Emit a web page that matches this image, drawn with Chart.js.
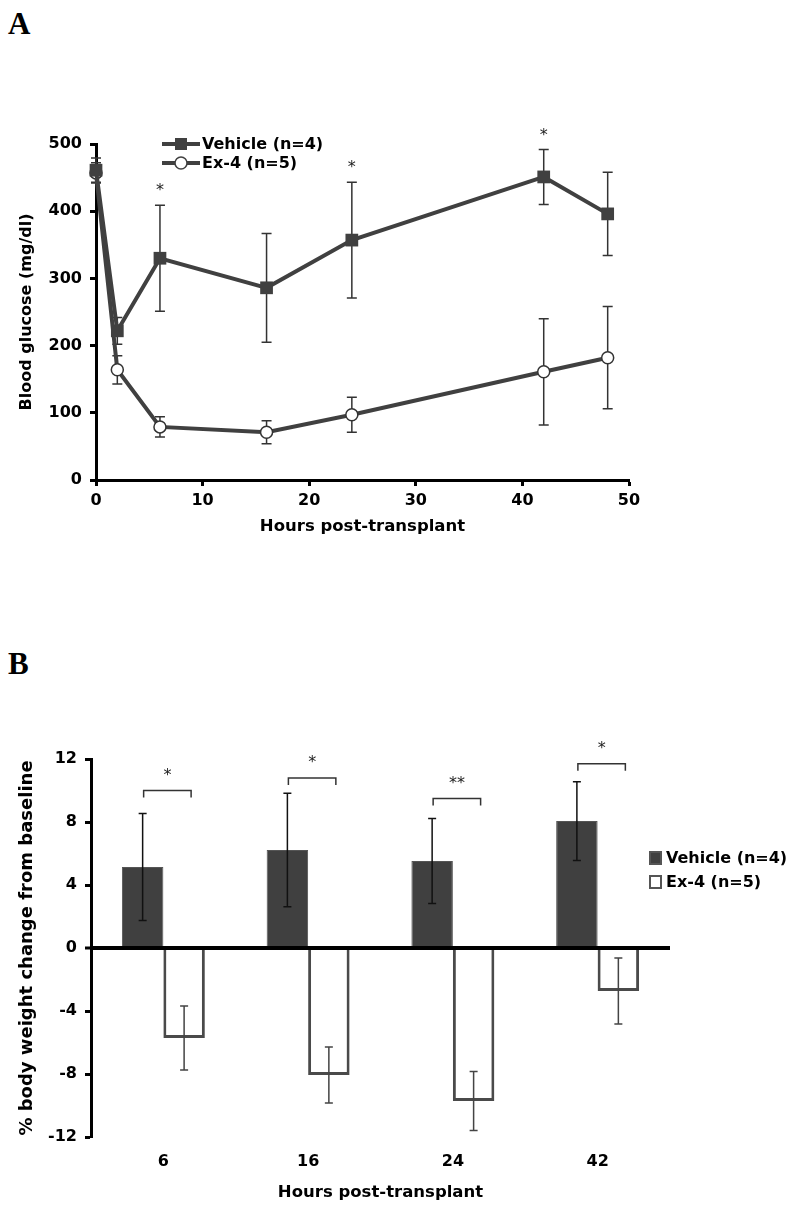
<!DOCTYPE html>
<html>
<head>
<meta charset="utf-8">
<script src="https://cdn.jsdelivr.net/npm/chart.js@4.4.0/dist/chart.umd.min.js"></script>
<style>
  body { margin:0; background:#fff; width:800px; height:1212px; position:relative; overflow:hidden; }
  .panel-label { position:absolute; left:8px; line-height:1; font:bold 31px "Liberation Serif", "Times New Roman", serif; color:#000; }
  #wrapA { position:absolute; left:0; top:0; width:800px; height:560px; }
  #wrapB { position:absolute; left:0; top:600px; width:800px; height:612px; }
</style>
</head>
<body>
<div class="panel-label" style="top:6px">A</div>
<div class="panel-label" style="top:646px">B</div>
<div id="wrapA"><canvas id="chartA" width="800" height="560"></canvas></div>
<div id="wrapB"><canvas id="chartB" width="800" height="612"></canvas></div>

<script>
// ---- Panel A: blood glucose ----
const HOURS = [0, 2, 6, 16, 24, 42, 48];
const VEHICLE_GLU = [461, 222, 330, 286, 357, 451, 396];
const VEHICLE_GLU_SEM = [18, 20, 79, 81, 86, 41, 62];
const EX4_GLU = [457, 164, 79, 71, 97, 161, 182];
const EX4_GLU_SEM = [15, 21, 15, 17, 26, 79, 76];
const GLU_SIG_HOURS = [6, 24, 42];

// ---- Panel B: body weight ----
const BW_HOURS = ["6", "16", "24", "42"];
const VEHICLE_BW = [5.14, 6.22, 5.52, 8.06];
const VEHICLE_BW_SEM = [3.4, 3.6, 2.7, 2.5];
const EX4_BW = [-5.71, -8.06, -9.71, -2.73];
const EX4_BW_SEM = [2.03, 1.78, 1.87, 2.1];
const BW_SIG = ["*", "*", "**", "*"];
const BW_SIG_LEVEL = [10, 10.8, 9.5, 11.7];

const FONT = "'DejaVu Sans', Verdana, sans-serif";
const DARK = "#404040";

// error bars from ds.errors, drawn through the y scale
function drawErrors(chart, cap){
  const {ctx} = chart;
  const ys = chart.scales.y;
  chart.data.datasets.forEach((ds, di) => {
    if (!ds.errors) return;
    const meta = chart.getDatasetMeta(di);
    ctx.save();
    ctx.strokeStyle = ds.errorColor || "#333";
    ctx.lineWidth = ds.errorWidth || 1.5;
    meta.data.forEach((el, i) => {
      const raw = ds.data[i];
      const v = (typeof raw === "object") ? raw.y : raw;
      const top = ys.getPixelForValue(v + ds.errors[i]);
      const bot = ys.getPixelForValue(v - ds.errors[i]);
      const x = el.x;
      ctx.beginPath();
      ctx.moveTo(x, top); ctx.lineTo(x, bot);
      ctx.moveTo(x - cap, top); ctx.lineTo(x + cap, top);
      ctx.moveTo(x - cap, bot); ctx.lineTo(x + cap, bot);
      ctx.stroke();
    });
    ctx.restore();
  });
}
const errorBars = {
  id: "errorBars",
  beforeDatasetsDraw(chart, args, opts){ if (opts.before) drawErrors(chart, opts.cap || 4); },
  afterDatasetsDraw(chart, args, opts){ if (!opts.before) drawErrors(chart, opts.cap || 4); }
};

function axisBits(){
  return {
    grid: { display:true, drawOnChartArea:false, drawTicks:true, tickLength:6, tickWidth:3, tickColor:"#000" },
    border: { display:true, color:"#000", width:3 }
  };
}

// ---- A extras: stars + legend ----
const extrasA = {
  id: "extrasA",
  afterDraw(chart){
    const {ctx, scales:{x, y}} = chart;
    ctx.save();
    ctx.fillStyle = "#222";
    ctx.font = "16px " + FONT;
    ctx.textAlign = "center";
    ctx.textBaseline = "middle";
    GLU_SIG_HOURS.forEach(h => {
      const i = HOURS.indexOf(h);
      const py = y.getPixelForValue(VEHICLE_GLU[i] + VEHICLE_GLU_SEM[i]) - 14;
      ctx.fillText("*", x.getPixelForValue(h), py);
    });
    // legend
    const rows = [
      { label:"Vehicle (n=4)", y:144, square:true },
      { label:"Ex-4 (n=5)", y:163, square:false }
    ];
    rows.forEach(r => {
      ctx.strokeStyle = DARK; ctx.lineWidth = 4;
      ctx.beginPath(); ctx.moveTo(162, r.y); ctx.lineTo(200, r.y); ctx.stroke();
      if (r.square){
        ctx.fillStyle = DARK; ctx.fillRect(175, r.y - 6, 12, 12);
      } else {
        ctx.fillStyle = "#fff"; ctx.lineWidth = 1.5;
        ctx.beginPath(); ctx.arc(181, r.y, 6, 0, Math.PI * 2); ctx.fill(); ctx.stroke();
      }
      ctx.fillStyle = "#000";
      ctx.font = "bold 16px " + FONT;
      ctx.textAlign = "left";
      ctx.fillText(r.label, 202, r.y + 1);
    });
    ctx.restore();
  }
};

new Chart(document.getElementById("chartA"), {
  type: "line",
  data: {
    datasets: [
      { label:"Vehicle (n=4)", data: HOURS.map((h, i) => ({x:h, y:VEHICLE_GLU[i]})),
        errors: VEHICLE_GLU_SEM, errorColor:"#333",
        borderColor: DARK, borderWidth: 4, backgroundColor: DARK,
        pointStyle: "rect", pointRadius: 9, pointBorderWidth: 0, tension: 0, clip: false },
      { label:"Ex-4 (n=5)", data: HOURS.map((h, i) => ({x:h, y:EX4_GLU[i]})),
        errors: EX4_GLU_SEM, errorColor:"#333",
        borderColor: DARK, borderWidth: 4, backgroundColor: "#fff",
        pointStyle: "circle", pointRadius: 6, pointBorderWidth: 1.5, pointBorderColor: "#333",
        tension: 0, clip: false }
    ]
  },
  options: {
    responsive: false, animation: false, events: [],
    layout: { padding: { left:0, top:144, right:171, bottom:0 } },
    plugins: { legend:{display:false}, tooltip:{enabled:false}, errorBars:{before:true, cap:5} },
    scales: {
      x: { type:"linear", min:0, max:50, ...axisBits(),
        ticks: { stepSize:10, padding:5, color:"#000", font:{family:FONT, weight:"bold", size:16} },
        title: { display:true, text:"Hours post-transplant", color:"#000",
          font:{family:FONT, weight:"bold", size:16.5}, padding:{top:0, bottom:23} },
        afterFit: s => { s.height = 80; } },
      y: { min:0, max:500, ...axisBits(),
        ticks: { stepSize:100, padding:8, color:"#000", font:{family:FONT, weight:"bold", size:16} },
        title: { display:true, text:"Blood glucose (mg/dl)", color:"#000",
          font:{family:FONT, weight:"bold", size:16}, padding:{top:17, bottom:0} },
        afterFit: s => { s.width = 96; } }
    }
  },
  plugins: [errorBars, extrasA]
});

// ---- B extras: brackets + legend ----
const extrasB = {
  id: "extrasB",
  afterDraw(chart){
    const {ctx, scales:{y}} = chart;
    const m0 = chart.getDatasetMeta(0), m1 = chart.getDatasetMeta(1);
    ctx.save();
    ctx.strokeStyle = "#333"; ctx.lineWidth = 1.5;
    ctx.fillStyle = "#222";
    ctx.font = "16px " + FONT;
    ctx.textAlign = "center"; ctx.textBaseline = "middle";
    BW_SIG.forEach((s, i) => {
      const x1 = m0.data[i].x + 1, x2 = m1.data[i].x + 7;
      const py = y.getPixelForValue(BW_SIG_LEVEL[i]);
      ctx.beginPath();
      ctx.moveTo(x1, py + 7); ctx.lineTo(x1, py); ctx.lineTo(x2, py); ctx.lineTo(x2, py + 7);
      ctx.stroke();
      ctx.fillText(s, (x1 + x2) / 2, py - 15);
    });
    // legend
    const rows = [
      { label:"Vehicle (n=4)", y:258, fill:DARK },
      { label:"Ex-4 (n=5)", y:282, fill:"#fff" }
    ];
    rows.forEach(r => {
      ctx.fillStyle = r.fill; ctx.fillRect(650, r.y - 6, 11, 12);
      ctx.strokeStyle = "#555"; ctx.lineWidth = 2;
      ctx.strokeRect(650, r.y - 6, 11, 12);
      ctx.fillStyle = "#000";
      ctx.font = "bold 16px " + FONT;
      ctx.textAlign = "left";
      ctx.fillText(r.label, 666, r.y + 1);
    });
    ctx.restore();
  }
};

new Chart(document.getElementById("chartB"), {
  type: "bar",
  data: {
    labels: BW_HOURS,
    datasets: [
      { label:"Vehicle (n=4)", data: VEHICLE_BW, errors: VEHICLE_BW_SEM, errorColor:"#111",
        backgroundColor: DARK, borderColor: "#555", borderWidth: 1,
        categoryPercentage: 0.573, barPercentage: 1.0 },
      { label:"Ex-4 (n=5)", data: EX4_BW, errors: EX4_BW_SEM, errorColor:"#444",
        backgroundColor: "#fff", borderColor: "#4a4a4a", borderWidth: 3,
        categoryPercentage: 0.573, barPercentage: 1.0 }
    ]
  },
  options: {
    responsive: false, animation: false, events: [],
    layout: { padding: { left:0, top:159, right:130, bottom:0 } },
    plugins: { legend:{display:false}, tooltip:{enabled:false}, errorBars:{before:false, cap:4} },
    scales: {
      x: { grid: { display:false, drawTicks:false }, border: { display:false },
        ticks: { padding:15, color:"#000", font:{family:FONT, weight:"bold", size:16} },
        title: { display:true, text:"Hours post-transplant", color:"#000",
          font:{family:FONT, weight:"bold", size:16.5}, padding:{top:0, bottom:9} },
        afterFit: s => { s.height = 75; } },
      y: { min:-12, max:12,
        grid: { display:true, drawOnChartArea:true, drawTicks:true, tickLength:6, tickWidth:3, tickColor:"#000",
          color: c => (c.tick && c.tick.value === 0) ? "#000" : "rgba(0,0,0,0)",
          lineWidth: c => (c.tick && c.tick.value === 0) ? 4 : 1 },
        border: { display:true, color:"#000", width:3 },
        ticks: { stepSize:4, padding:8, color:"#000", font:{family:FONT, weight:"bold", size:16} },
        title: { display:true, text:"% body weight change from baseline", color:"#000",
          font:{family:FONT, weight:"bold", size:18}, padding:{top:17, bottom:0} },
        afterFit: s => { s.width = 91; } }
    }
  },
  plugins: [errorBars, extrasB]
});
</script>
</body>
</html>
